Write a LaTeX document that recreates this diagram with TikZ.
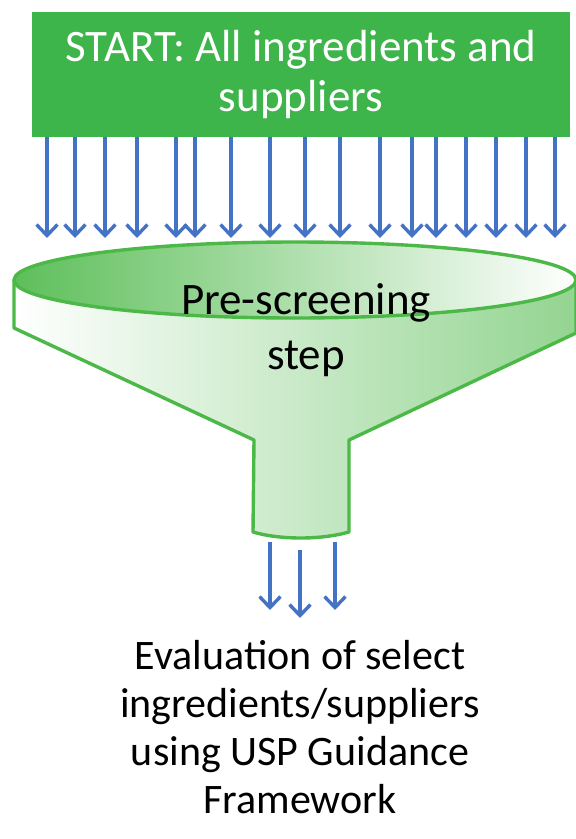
\documentclass[tikz,border=0pt]{standalone}
\usepackage{fontspec}
\setmainfont{Carlito}
\usetikzlibrary{arrows.meta,positioning,calc}
\definecolor{boxgreen}{HTML}{3DB54A}
\definecolor{funnelgreen}{HTML}{4CB848}
\definecolor{flowblue}{HTML}{4472C4}
\tikzset{
  startbox/.style={
    fill=boxgreen,
    text=white,
    align=center,
    minimum width=538pt,
    minimum height=125pt,
    inner sep=0pt,
    font=\fontsize{45}{50}\selectfont
  },
  steptext/.style={
    align=center,
    inner sep=0pt,
    font=\fontsize{45}{55}\selectfont
  },
  endtext/.style={
    align=center,
    inner sep=0pt,
    font=\fontsize{42}{48}\selectfont
  },
  funnelline/.style={
    draw=funnelgreen,
    line width=3.4pt,
    line join=round
  },
  flowarrow/.style={
    -{Straight Barb[length=11pt,width=21pt]},
    line width=3.4pt,
    draw=flowblue
  }
}
\begin{document}
\begin{tikzpicture}[x=1pt,y=-1pt]
    \useasboundingbox (0,0) rectangle (576,839);
    \node[startbox] (start) at (301,74.5) {START: All ingredients and\\suppliers};
    \coordinate (inlet) at (0,238);
    \foreach \x in {47,75,105,137,176,195,231,270,305,340,380,412,436,466,496,526,555}
      \draw[flowarrow] (\x,0 |- start.south) -- (\x,0 |- inlet);
    % funnel body and rim
    \fill[left color=white, right color=funnelgreen!60]
      (14,280) -- (14,328) -- (254,440) -- (253,532)
      .. controls (280,540) and (321,540) .. (349,532)
      -- (349,440) -- (576,333) -- (576,280) -- cycle;
    \draw[funnelline]
      (14,280) -- (14,328) -- (254,440) -- (253,532)
      .. controls (280,540) and (321,540) .. (349,532)
      -- (349,440) -- (576,333) -- (576,280);
    \draw[funnelline, left color=funnelgreen!90, middle color=funnelgreen!30, right color=white]
      (295,280) ellipse [x radius=281, y radius=38];
    \node[steptext] (screen) at (306,330) {Pre-screening\\step};
    \coordinate (spout) at (300,542);
    \coordinate (outlet) at (300,610);
    \foreach \dx/\dy in {-30/0,0/8,35/0}
      \draw[flowarrow] ($(spout)+(\dx,\dy)$) -- ($(outlet)+(\dx,\dy)$);
    \node[endtext, below=30pt of outlet] (result)
      {Evaluation of select\\ingredients/suppliers\\using USP Guidance\\Framework};
\end{tikzpicture}
\end{document}
